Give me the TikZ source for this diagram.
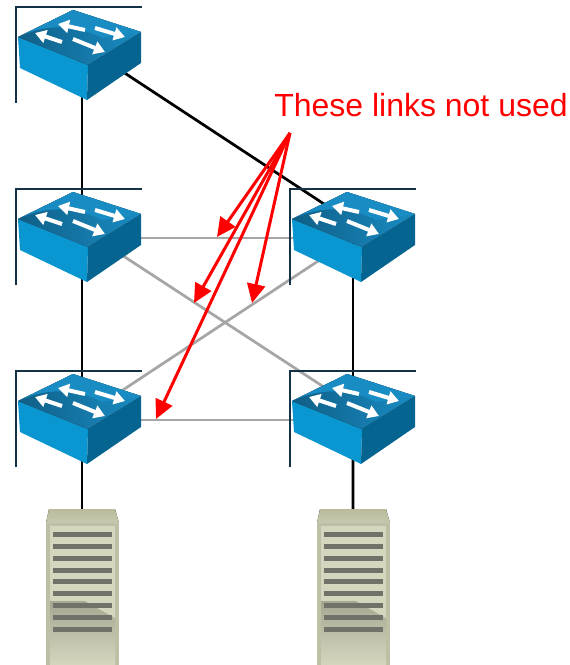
\documentclass[tikz,border=0pt]{standalone}
\usepackage{fontspec}
\setmainfont{Liberation Sans}
\usepackage{tikz}
\usetikzlibrary{arrows.meta}

\definecolor{swfront}{RGB}{10,150,208}
\definecolor{swside}{RGB}{6,100,145}
\definecolor{swdark}{RGB}{15,95,135}
\definecolor{swtop}{RGB}{25,140,195}
\definecolor{frameblue}{RGB}{20,50,70}
\definecolor{srvedge}{RGB}{190,192,165}
\definecolor{srvbody}{RGB}{212,214,190}
\definecolor{srvlow}{RGB}{165,167,145}
\definecolor{srvtop}{RGB}{185,187,155}
\definecolor{srvslot}{RGB}{112,114,106}

\begin{document}
\begin{tikzpicture}[x=0.02cm,y=-0.02cm,
     box/.style={draw=none,inner sep=0pt,minimum width=2.52cm,minimum height=1.92cm},
     srvbox/.style={draw=none,inner sep=0pt,minimum width=1.46cm,minimum height=3.12cm},
     uplink/.style={draw=black,line width=0.055cm},
     unused/.style={draw=black!35,line width=0.055cm},
     note/.style={draw=red,line width=0.06cm,-{Triangle[length=0.38cm,width=0.36cm]}},
     flow/.style={draw=white,line width=0.08cm,-{Triangle[length=0.22cm,width=0.26cm]}}
     ]
\useasboundingbox (0,0) rectangle (570,665);

%Placing the switches and servers
\node[box] (core) at (82,47) {};
\node[box] (aggl) at (82,229) {};
\node[box] (aggr) at (356,229) {};
\node[box] (accl) at (82,411) {};
\node[box] (accr) at (356,411) {};
\node[srvbox] (srvl) at (82,587) {};
\node[srvbox] (srvr) at (353,587) {};

%Links that carry traffic
\draw[uplink] (core.center) -- (aggl.center);
\draw[uplink] (aggl.center) -- (accl.center);
\draw[uplink] ([xshift=-0.06cm]aggr.center) -- ([xshift=-0.06cm]accr.center);
\draw[uplink] (accl.center) -- (srvl.center);
\draw[uplink] ([xshift=-0.06cm]accr.center) -- (srvr.center);
\draw[uplink] ([yshift=0.04cm]core.center) -- ([yshift=0.08cm]aggr.center);

%Links not used
\draw[unused] ([yshift=-0.18cm]aggl.center) -- ([yshift=-0.18cm]aggr.center);
\draw[unused] ([yshift=-0.18cm]accl.center) -- ([yshift=-0.18cm]accr.center);
\draw[unused] (aggl.center) -- ([yshift=0.06cm]accr.center);
\draw[unused] ([yshift=-0.14cm]aggr.center) -- ([yshift=-0.12cm]accl.center);

%Draw the switch icons
\foreach \s in {core,aggl,aggr,accl,accr}
{
\begin{scope}[shift={(\s)},shift={(-82,-47)}]
\draw[frameblue,line width=0.025cm] (16,103) -- (16,7) -- (142,7);
\fill[swfront] (18,37) -- (88,65) -- (87,100) -- (20,68) -- cycle;
\fill[swside] (88,65) -- (141,32) -- (141,63) -- (87,100) -- cycle;
\fill[left color=swdark,right color=swtop] (18,37) -- (73,10) -- (141,32) -- (88,65) -- cycle;
\fill[swtop] (18,37) .. controls (45,24) and (75,24) .. (102,38) -- (141,32) -- (73,10) -- cycle;
\draw[flow] (85,30) -- (58,24);
\draw[flow] (95,28) -- (125,37);
\draw[flow] (62,42) -- (35,33);
\draw[flow] (73,39) -- (105,52);
\end{scope}
}

%Draw the servers
\foreach \s in {srvl,srvr}
{
\begin{scope}[shift={(\s)},shift={(-82,-587)}]
\fill[top color=srvtop,bottom color=srvtop!80!white] (49,509) -- (115,509) -- (119,523) -- (46,523) -- cycle;
\fill[srvedge] (46,523) rectangle (119,665);
\fill[srvbody] (50,526) rectangle (115,601);
\fill[top color=srvlow,bottom color=srvbody] (50,601) rectangle (115,665);
\fill[srvbody] (85,601) -- (115,601) -- (115,618) -- cycle;
\foreach \y in {534,546,558,570,581,593,605,617,629}
   \fill[srvslot] (53,{\y-2.5}) rectangle (112,{\y+2.5});
\end{scope}
}

%Label and its arrows
\node[text=red,font=\fontsize{18.2}{20}\selectfont,anchor=west,inner sep=0pt] (lbl) at (274,105) {These links not used};
\coordinate (src) at (290,133);
\coordinate (t1) at (217,237);
\coordinate (t2) at (194,303);
\coordinate (t3) at (252,303);
\coordinate (t4) at (156,419);
\foreach \t in {t1,t2,t3,t4}
   \draw[note] (src) -- (\t);
\end{tikzpicture}
\end{document}
